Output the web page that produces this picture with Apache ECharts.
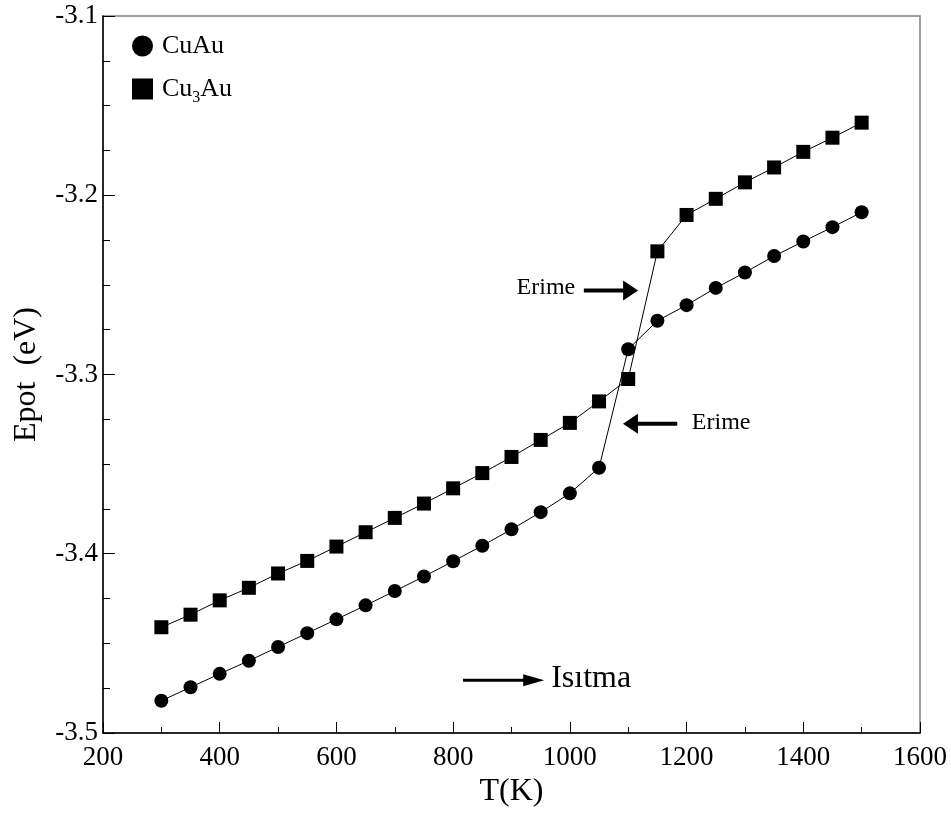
<!DOCTYPE html>
<html>
<head>
<meta charset="utf-8">
<script src="https://cdn.jsdelivr.net/npm/echarts@6/dist/echarts.min.js"></script>
<style>
  html, body { margin: 0; padding: 0; background: #fff; }
  #main { width: 951px; height: 813px; }
</style>
</head>
<body>
<div id="main"></div>
<script>
// 温度 (K)
const temps = [300, 350, 400, 450, 500, 550, 600, 650, 700, 750, 800, 850, 900, 950, 1000,
    1050, 1100, 1150, 1200, 1250, 1300, 1350, 1400, 1450, 1500];
// CuAu
const cuAu = [-3.482, -3.4745, -3.467, -3.4597, -3.452, -3.4443, -3.4366, -3.4288, -3.4208, -3.4127,
    -3.4042, -3.3955, -3.3864, -3.3768, -3.3663, -3.352, -3.2859, -3.270, -3.2613, -3.2517,
    -3.2431, -3.2339, -3.2258, -3.2178, -3.2095];
// Cu3Au
const cu3Au = [-3.441, -3.434, -3.426, -3.419, -3.411, -3.404, -3.396, -3.388, -3.380, -3.372,
    -3.3635, -3.355, -3.346, -3.3365, -3.327, -3.315, -3.3025, -3.2313, -3.211, -3.202,
    -3.1928, -3.1845, -3.1758, -3.1679, -3.1595];

// 注释 (数据坐标)
const noteTexts = ['Erime', 'Erime', 'Isıtma'];
const notePos = [[959, -3.2515], [1209, -3.3269], [968, -3.4695]];
const arrowFrom = [[1024, -3.2531], [1184, -3.3275], [817, -3.4706]];
const arrowTo = [[1117, -3.2531], [1091, -3.3275], [956, -3.4706]];

const FONT = 'Liberation Serif';

let myChart = echarts.init(document.getElementById('main'));

// 刻度标签用 rich 强制衬线字体
const tickRich = { t: { fontFamily: FONT, fontSize: 27, color: '#000' } };

let option = {
    backgroundColor: '#fff',
    animation: false,
    textStyle: { fontFamily: FONT },
    grid: {
        left: 103,
        right: 31,
        top: 16,
        bottom: 76,
        show: true,
        borderColor: '#808080',
        borderWidth: 1.5
    },
    legend: {
        orient: 'vertical',
        left: 127,
        top: 28,
        itemWidth: 21,
        itemHeight: 21,
        itemGap: 17,
        data: [
            { name: 'CuAu', icon: 'circle' },
            { name: 'Cu3Au', icon: 'rect' }
        ],
        formatter: function (name) {
            return name === 'Cu3Au' ? 'Cu{sub|3}Au' : name;
        },
        textStyle: {
            fontFamily: FONT,
            fontSize: 26,
            color: '#000',
            padding: [0, 0, 0, 4],
            rich: {
                sub: { fontFamily: FONT, fontSize: 16, color: '#000', verticalAlign: 'bottom', lineHeight: 16, padding: [0, 0, -4, 0] }
            }
        }
    },
    xAxis: {
        type: 'value',
        min: 200,
        max: 1600,
        interval: 200,
        name: 'T(K)',
        nameLocation: 'middle',
        nameGap: 43,
        nameTextStyle: { fontFamily: FONT, fontSize: 32, color: '#000' },
        axisLine: { lineStyle: { color: '#000', width: 1.5 } },
        axisTick: { inside: true, length: 11, lineStyle: { color: '#000', width: 1 } },
        minorTick: { show: true, splitNumber: 2, length: 6, lineStyle: { color: '#000', width: 1 } },
        axisLabel: {
            fontFamily: FONT, fontSize: 27, color: '#000', margin: 11,
            formatter: function (v) { return '{t|' + v + '}'; },
            rich: tickRich
        },
        splitLine: { show: false }
    },
    yAxis: {
        type: 'value',
        min: -3.5,
        max: -3.1,
        interval: 0.1,
        name: 'Epot  (eV)',
        nameLocation: 'middle',
        nameGap: 60,
        nameTextStyle: { fontFamily: FONT, fontSize: 32, color: '#000' },
        axisLine: { lineStyle: { color: '#000', width: 1.5 } },
        axisTick: { inside: true, length: 12, lineStyle: { color: '#000', width: 1 } },
        minorTick: { show: true, splitNumber: 4, length: 7, lineStyle: { color: '#000', width: 1 } },
        axisLabel: {
            fontFamily: FONT, fontSize: 27, color: '#000', margin: 5,
            formatter: function (v) { return '{t|' + v.toFixed(1) + '}'; },
            rich: tickRich
        },
        splitLine: { show: false }
    },
    series: [
        {
            name: 'CuAu',
            type: 'line',
            symbol: 'circle',
            symbolSize: 14,
            itemStyle: { color: '#000' },
            lineStyle: { color: '#000', width: 1 },
            data: temps.map((t, i) => [t, cuAu[i]])
        },
        {
            name: 'Cu3Au',
            type: 'line',
            symbol: 'rect',
            symbolSize: 14,
            itemStyle: { color: '#000' },
            lineStyle: { color: '#000', width: 1 },
            data: temps.map((t, i) => [t, cu3Au[i]])
        }
    ]
};
myChart.setOption(option);

// 箭头 + 文字
const arrowStyle = [
    { w: 4, len: 15, half: 10 },
    { w: 4, len: 15, half: 10 },
    { w: 3, len: 21, half: 6 }
];
let graphics = [];
noteTexts.forEach(function (txt, i) {
    let p = myChart.convertToPixel({ gridIndex: 0 }, notePos[i]);
    graphics.push({
        type: 'text',
        style: {
            text: txt,
            x: p[0], y: p[1],
            font: (i === 2 ? 32 : 24) + 'px ' + FONT,
            fill: '#000',
            align: i === 0 ? 'center' : 'left',
            verticalAlign: 'middle'
        }
    });
    let a = myChart.convertToPixel({ gridIndex: 0 }, arrowFrom[i]);
    let b = myChart.convertToPixel({ gridIndex: 0 }, arrowTo[i]);
    let s = arrowStyle[i];
    let dx = b[0] - a[0], dy = b[1] - a[1];
    let L = Math.sqrt(dx * dx + dy * dy);
    let ux = dx / L, uy = dy / L;
    let bx = b[0] - ux * s.len, by = b[1] - uy * s.len;
    graphics.push({
        type: 'line',
        shape: { x1: a[0], y1: a[1], x2: bx + ux, y2: by + uy },
        style: { stroke: '#000', lineWidth: s.w }
    });
    graphics.push({
        type: 'polygon',
        shape: { points: [[b[0], b[1]], [bx - uy * s.half, by + ux * s.half], [bx + uy * s.half, by - ux * s.half]] },
        style: { fill: '#000' }
    });
});
myChart.setOption({ graphic: graphics });
</script>
</body>
</html>
